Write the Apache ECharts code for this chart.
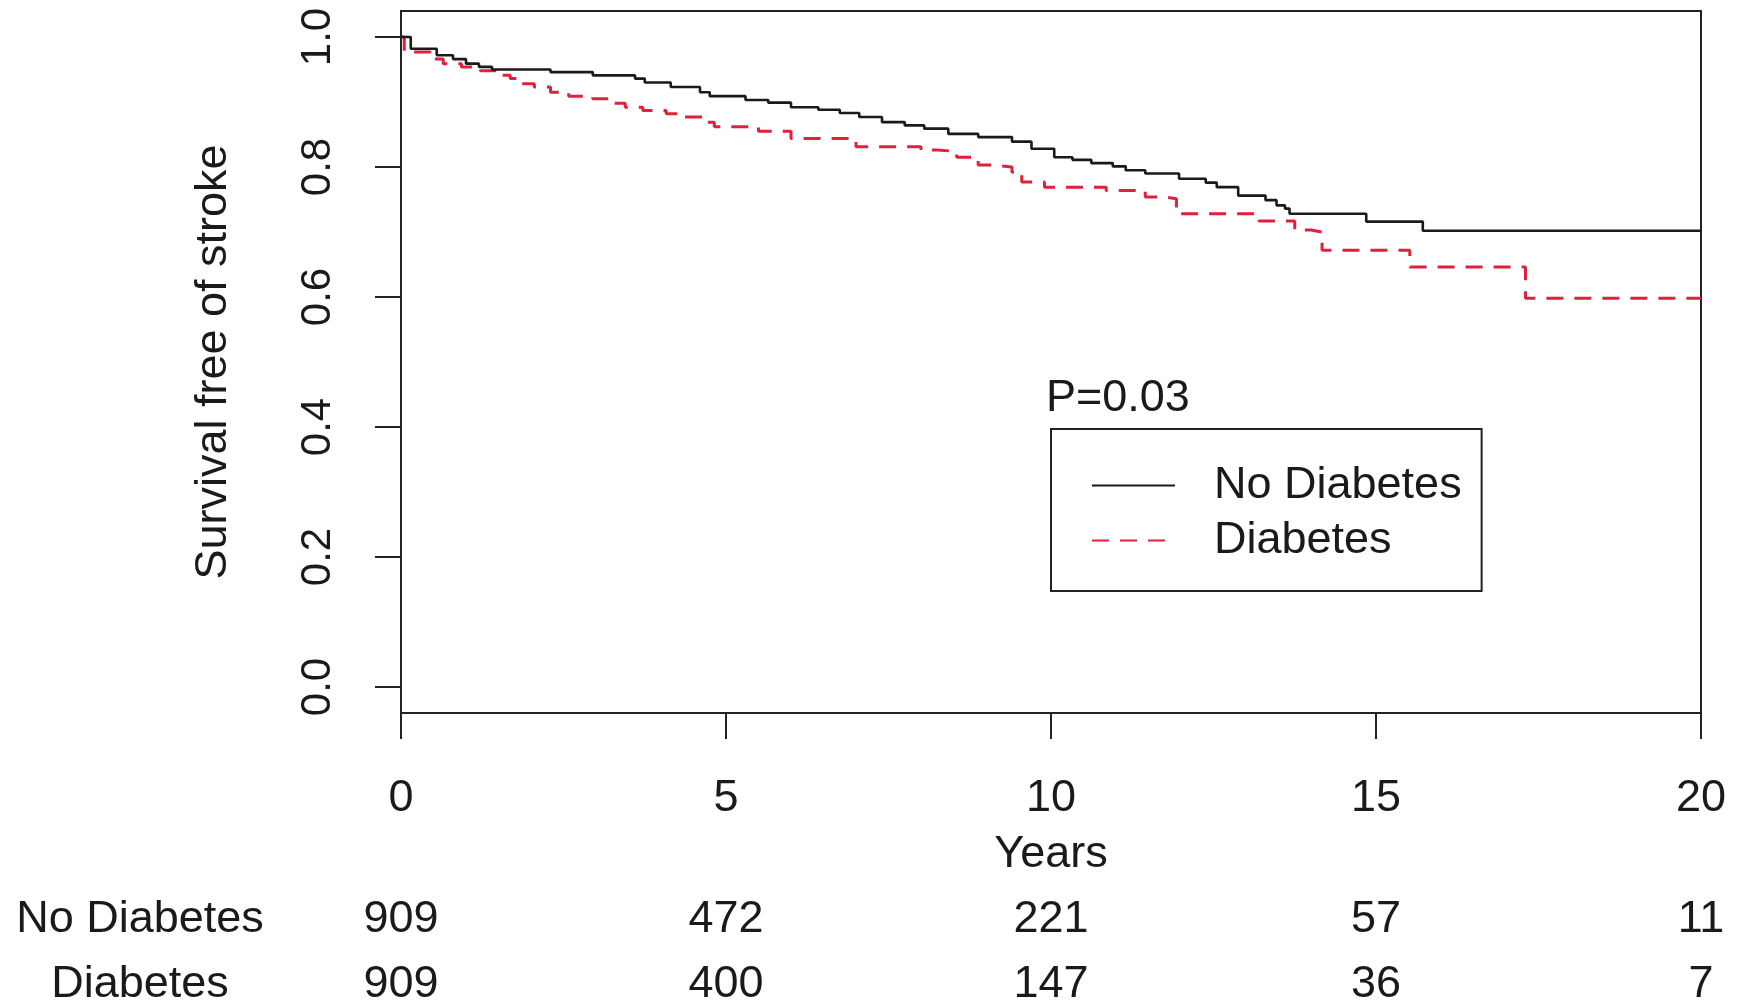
<!DOCTYPE html>
<html>
<head>
<meta charset="utf-8">
<script src="https://cdn.jsdelivr.net/npm/echarts@6/dist/echarts.min.js"></script>
<style>
html,body{margin:0;padding:0;background:#fff;}
#chart{width:1741px;height:1007px;}
</style>
</head>
<body>
<div id="chart"></div>
<script>
// ---- data ----
const xTicks = [0, 5, 10, 15, 20];
const yTicks = [0, 0.2, 0.4, 0.6, 0.8, 1.0];
const groupNames = ['No Diabetes', 'Diabetes'];
const riskNoDiabetes = [909, 472, 221, 57, 11];
const riskDiabetes = [909, 400, 147, 36, 7];
const pValueText = 'P=0.03';

// Kaplan-Meier steps: [years, survival after drop]
const noDiabetesKM = [
  [0,1.0],[0.15,0.982],[0.55,0.972],[0.8,0.966],[1.0,0.959],[1.2,0.954],[1.4,0.950],
  [2.3,0.946],[2.95,0.941],[3.6,0.936],[3.75,0.930],[4.15,0.923],[4.6,0.915],[4.75,0.909],
  [5.3,0.903],[5.65,0.899],[6.0,0.892],[6.42,0.888],[6.75,0.883],[7.05,0.877],[7.4,0.869],
  [7.75,0.864],[8.05,0.859],[8.42,0.851],[8.88,0.846],[9.4,0.839],[9.7,0.828],[10.05,0.815],
  [10.33,0.811],[10.62,0.806],[10.95,0.801],[11.15,0.795],[11.45,0.790],[11.97,0.782],
  [12.38,0.776],[12.55,0.769],[12.88,0.756],[13.3,0.749],[13.47,0.741],[13.6,0.736],
  [13.67,0.728],[14.85,0.716],[15.72,0.702],[20,0.702]
];
const diabetesKM = [
  [0,1.0],[0.05,0.977],[0.45,0.966],[0.65,0.959],[0.93,0.954],[1.22,0.948],[1.52,0.941],
  [1.68,0.936],[1.85,0.928],[2.05,0.923],[2.3,0.915],[2.58,0.909],[2.95,0.905],[3.25,0.898],
  [3.45,0.892],[3.72,0.887],[4.08,0.882],[4.35,0.877],[4.65,0.869],[4.82,0.862],[5.5,0.855],
  [6.0,0.844],[7.0,0.831],[8.0,0.826],[8.25,0.824],[8.55,0.815],[8.88,0.803],[9.1,0.800],
  [9.4,0.792],[9.55,0.777],[9.9,0.769],[10.85,0.764],[11.45,0.754],[11.75,0.751],
  [11.93,0.728],[13.2,0.717],[13.75,0.703],[14.0,0.700],[14.17,0.672],[15.52,0.646],
  [17.3,0.598],[20,0.598]
];

// ---- chart ----
const FONT = '"Liberation Sans", Arial, Helvetica, sans-serif';
const TXT = '#1a1a1a';
const chart = echarts.init(document.getElementById('chart'), null, {renderer: 'canvas'});

function riskAxis(values, offset) {
  return {
    type: 'value', gridIndex: 0, position: 'bottom', offset: offset,
    min: 0, max: 20, interval: 5,
    axisLine: {show: false}, axisTick: {show: false}, splitLine: {show: false},
    axisLabel: {
      margin: 34, color: TXT, fontSize: 45, fontFamily: FONT,
      showMinLabel: true, showMaxLabel: true,
      formatter: function (v) { const i = xTicks.indexOf(v); return i >= 0 ? String(values[i]) : ''; }
    }
  };
}

const option = {
  animation: false,
  backgroundColor: '#fff',
  grid: {
    left: 401, right: 40, top: 11, bottom: 293,
    show: true, borderColor: '#222', borderWidth: 2, backgroundColor: 'transparent'
  },
  xAxis: [
    {
      type: 'value', min: 0, max: 20, interval: 5,
      name: 'Years', nameLocation: 'middle', nameGap: 119,
      nameTextStyle: {color: TXT, fontSize: 45, fontFamily: FONT},
      axisLine: {show: true, onZero: false, lineStyle: {color: '#222', width: 2}},
      axisTick: {show: true, inside: false, length: 26, lineStyle: {color: '#222', width: 2}},
      splitLine: {show: false},
      axisLabel: {margin: 63, color: TXT, fontSize: 45, fontFamily: FONT, showMinLabel: true, showMaxLabel: true}
    },
    riskAxis(riskNoDiabetes, 150),
    riskAxis(riskDiabetes, 215)
  ],
  yAxis: {
    type: 'value', min: -0.04, max: 1.04,
    name: 'Survival free of stroke', nameLocation: 'middle', nameGap: 165, nameRotate: 90,
    nameTextStyle: {color: TXT, fontSize: 45, fontFamily: FONT},
    axisLine: {show: true, onZero: false, lineStyle: {color: '#222', width: 2}},
    axisTick: {show: true, length: 26, lineStyle: {color: '#222', width: 2}, customValues: yTicks},
    splitLine: {show: false},
    axisLabel: {
      rotate: 90, margin: 62, color: TXT, fontSize: 42, fontFamily: FONT,
      customValues: yTicks,
      formatter: function (v) { return v.toFixed(1); }
    }
  },
  legend: {
    left: 1051, top: 429,
    orient: 'vertical',
    data: groupNames,
    itemWidth: 83, itemHeight: 20, itemGap: 10,
    padding: [34, 20, 28, 40],
    borderColor: '#222', borderWidth: 2, borderRadius: 0,
    backgroundColor: '#fff',
    itemStyle: {opacity: 0, borderWidth: 0},
    textStyle: {color: TXT, fontSize: 45, fontFamily: FONT, padding: [0, 0, 0, 34]}
  },
  graphic: [
    {type: 'text', left: 1046, top: 376, style: {text: pValueText, fill: TXT, font: '45px ' + FONT}},
    {type: 'text', x: 140, y: 920, style: {text: groupNames[0], fill: TXT, font: '45px ' + FONT, textAlign: 'center', textVerticalAlign: 'middle'}},
    {type: 'text', x: 140, y: 985, style: {text: groupNames[1], fill: TXT, font: '45px ' + FONT, textAlign: 'center', textVerticalAlign: 'middle'}}
  ],
  series: [
    {
      name: groupNames[0], type: 'line', step: 'end', data: noDiabetesKM,
      xAxisIndex: 0, yAxisIndex: 0,
      symbol: 'none', showSymbol: false,
      lineStyle: {color: '#1a1a1a', width: 2.6, type: 'solid'},
      itemStyle: {color: '#1a1a1a'}, z: 3
    },
    {
      name: groupNames[1], type: 'line', step: 'end', data: diabetesKM,
      xAxisIndex: 0, yAxisIndex: 0,
      symbol: 'none', showSymbol: false,
      lineStyle: {color: '#e0203c', width: 3, type: [17, 11]},
      itemStyle: {color: '#e0203c'}, z: 2
    }
  ]
};
chart.setOption(option);
</script>
</body>
</html>
